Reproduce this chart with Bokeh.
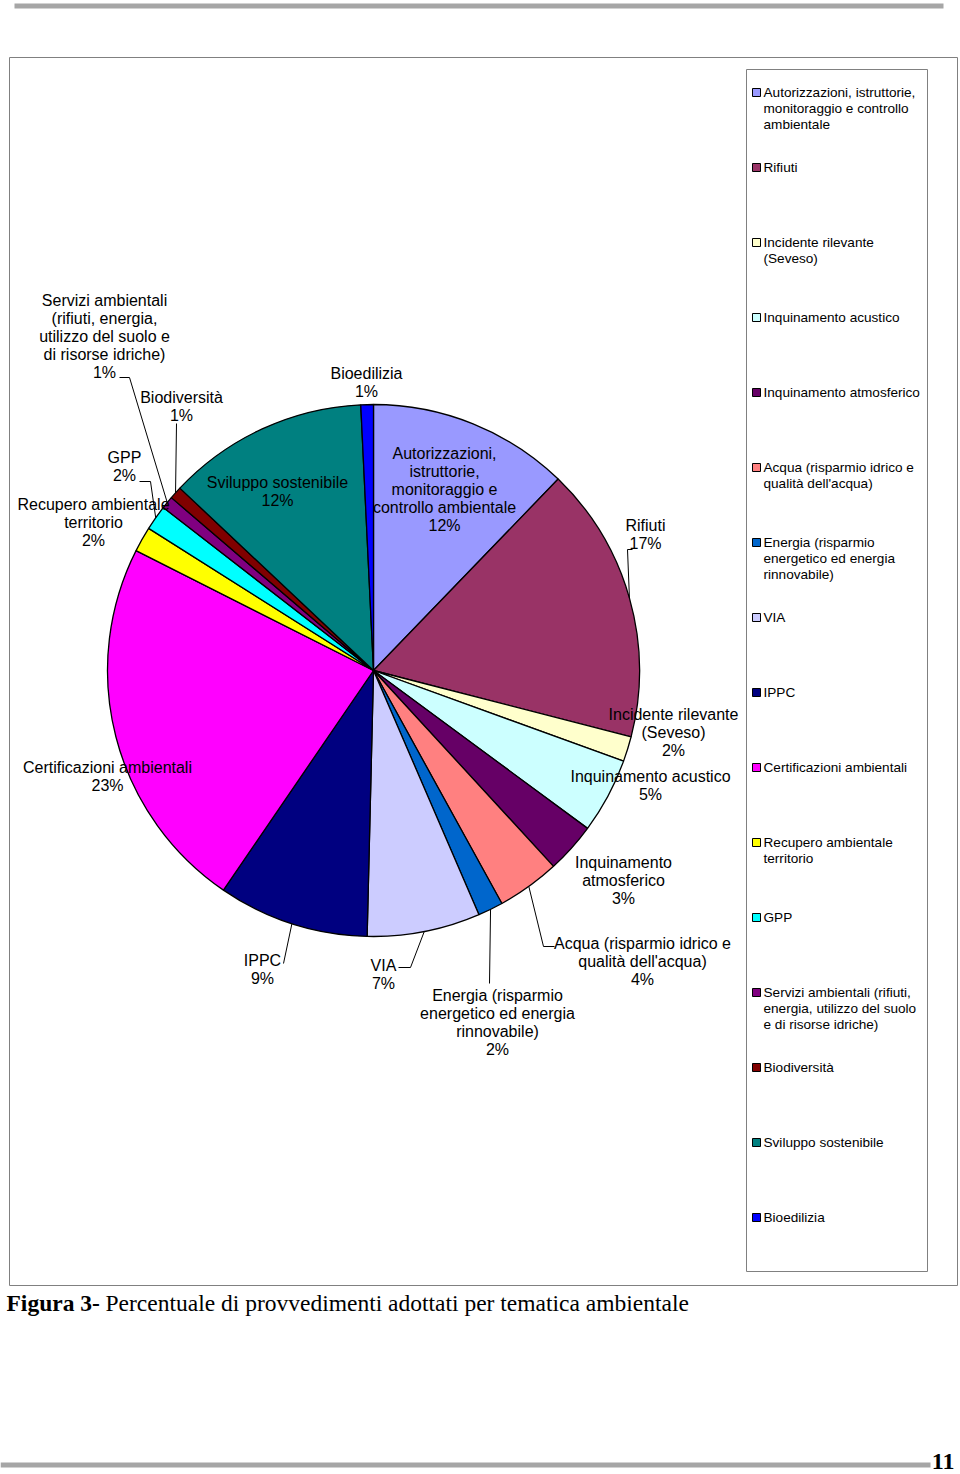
import math
from bokeh.plotting import figure
from bokeh.models import Range1d, ColumnDataSource
from bokeh.core.properties import value
from bokeh.embed import file_html
from bokeh.resources import INLINE

# ---------------- data ----------------
categories = [
    "Autorizzazioni, istruttorie, monitoraggio e controllo ambientale",
    "Rifiuti",
    "Incidente rilevante (Seveso)",
    "Inquinamento acustico",
    "Inquinamento atmosferico",
    "Acqua (risparmio idrico e qualità dell'acqua)",
    "Energia (risparmio energetico ed energia rinnovabile)",
    "VIA",
    "IPPC",
    "Certificazioni ambientali",
    "Recupero ambientale territorio",
    "GPP",
    "Servizi ambientali (rifiuti, energia, utilizzo del suolo e di risorse idriche)",
    "Biodiversità",
    "Sviluppo sostenibile",
    "Bioedilizia",
]
counts = [16, 22, 2, 6, 4, 5, 2, 9, 12, 30, 2, 2, 1, 1, 16, 1]
colors = ["#9999FF", "#993366", "#FFFFCC", "#CCFFFF", "#660066", "#FF8080",
          "#0066CC", "#CCCCFF", "#000080", "#FF00FF", "#FFFF00", "#00FFFF",
          "#800080", "#800000", "#008080", "#0000FF"]

label_lines = [
    ["Autorizzazioni,", "istruttorie,", "monitoraggio e", "controllo ambientale"],
    ["Rifiuti"],
    ["Incidente rilevante", "(Seveso)"],
    ["Inquinamento acustico"],
    ["Inquinamento", "atmosferico"],
    ["Acqua (risparmio idrico e", "qualità dell'acqua)"],
    ["Energia (risparmio", "energetico ed energia", "rinnovabile)"],
    ["VIA"],
    ["IPPC"],
    ["Certificazioni ambientali"],
    ["Recupero ambientale", "territorio"],
    ["GPP"],
    ["Servizi ambientali", "(rifiuti, energia,", "utilizzo del suolo e", "di risorse idriche)"],
    ["Biodiversità"],
    ["Sviluppo sostenibile"],
    ["Bioedilizia"],
]
legend_lines = [
    ["Autorizzazioni,  istruttorie,", "monitoraggio e controllo", "ambientale"],
    ["Rifiuti"],
    ["Incidente rilevante", "(Seveso)"],
    ["Inquinamento acustico"],
    ["Inquinamento atmosferico"],
    ["Acqua (risparmio idrico e", "qualità dell'acqua)"],
    ["Energia (risparmio", "energetico ed energia", "rinnovabile)"],
    ["VIA"],
    ["IPPC"],
    ["Certificazioni ambientali"],
    ["Recupero ambientale", "territorio"],
    ["GPP"],
    ["Servizi ambientali (rifiuti,", "energia, utilizzo del suolo", "e di risorse idriche)"],
    ["Biodiversità"],
    ["Sviluppo sostenibile"],
    ["Bioedilizia"],
]
caption_bold = "Figura 3-"
caption_text = "Percentuale di provvedimenti adottati per tematica ambientale"
page_number = "11"

# ---------------- layout (page pixel coordinates) ----------------
W, H = 960, 1474
def X(px): return px
def Y(py): return H - py

PIE_C = (373, 670)
PIE_R = 266

label_pos = [
    (444, 489), (645, 534), (673, 732), (650, 785), (623, 880), (642, 961),
    (497, 1022), (383, 974), (262, 969), (107, 776), (93, 522), (124, 466),
    (104, 336), (181, 406), (277, 491), (366, 382),
]
leaders = {
    12: [(119, 377), (129, 377)],
    13: [(176, 423)],
    11: [(139, 481), (150, 481)],
    1: [(632, 549), (627, 549)],
    5: [(554, 946), (543, 946)],
    6: [(489, 983)],
    7: [(398, 967), (410, 967)],
    8: [(283, 963)],
}
LABEL_LH = 18
LEG_Y0, LEG_STEP, LEG_LH = 92, 75, 16

FONT = value("Liberation Sans")
SERIF = value("Liberation Serif")

p = figure(width=W, height=H, x_range=Range1d(0, W), y_range=Range1d(0, H),
           output_backend="svg", toolbar_location=None,
           x_axis_location=None, y_axis_location=None, min_border=0,
           outline_line_color=None, background_fill_color="white",
           border_fill_color="white")
p.grid.visible = False

# top and bottom gray page rules
p.quad(left=[X(14)], right=[X(943)], bottom=[Y(8)], top=[Y(3)],
       fill_color="#A6A6A6", line_color=None)
p.quad(left=[X(0)], right=[X(930)], bottom=[Y(1467)], top=[Y(1462)],
       fill_color="#A6A6A6", line_color=None)

# chart frame and legend box
p.quad(left=[X(9)], right=[X(957)], bottom=[Y(1285)], top=[Y(57)],
       fill_color=None, line_color="#808080", line_width=1)
p.quad(left=[X(746)], right=[X(927)], bottom=[Y(1271)], top=[Y(69)],
       fill_color=None, line_color="#808080", line_width=1)

# pie
total = sum(counts)
cum = [0]
for c in counts:
    cum.append(cum[-1] + c)
starts = [math.pi / 2 - 2 * math.pi * cum[i] / total for i in range(len(counts))]
ends = [math.pi / 2 - 2 * math.pi * cum[i + 1] / total for i in range(len(counts))]
p.wedge(x=X(PIE_C[0]), y=Y(PIE_C[1]), radius=PIE_R, start_angle=starts,
        end_angle=ends, direction="clock", fill_color=colors,
        line_color="black", line_width=1.3)

# leader lines
lx, ly = [], []
for i, pts in leaders.items():
    th = 2 * math.pi * (cum[i] + counts[i] / 2) / total
    ex = X(PIE_C[0]) + PIE_R * math.sin(th)
    ey = Y(PIE_C[1]) + PIE_R * math.cos(th)
    lx.append([X(a) for a, b in pts] + [ex])
    ly.append([Y(b) for a, b in pts] + [ey])
p.multi_line(xs=lx, ys=ly, line_color="black", line_width=1)

# pie labels
tx, ty, tt = [], [], []
for i, lines in enumerate(label_lines):
    pct = f"{round(100 * counts[i] / total)}%"
    all_lines = lines + [pct]
    n = len(all_lines)
    cx, cy = label_pos[i]
    for k, s in enumerate(all_lines):
        tx.append(X(cx))
        ty.append(Y(cy + (k - (n - 1) / 2) * LABEL_LH))
        tt.append(s)
p.text(x="x", y="y", text="t", source=ColumnDataSource(dict(x=tx, y=ty, t=tt)),
       text_font=FONT, text_font_size="16px", text_align="center",
       text_baseline="middle", text_color="black")

# legend
mx, my = [], []
gx, gy, gt = [], [], []
for i, lines in enumerate(legend_lines):
    y0 = LEG_Y0 + LEG_STEP * i
    mx.append(X(756))
    my.append(Y(y0))
    for k, s in enumerate(lines):
        gx.append(X(763))
        gy.append(Y(y0 + k * LEG_LH))
        gt.append(s)
p.scatter(x=mx, y=my, marker="square", size=8, fill_color=colors,
          line_color="black", line_width=1)
p.text(x="x", y="y", text="t", source=ColumnDataSource(dict(x=gx, y=gy, t=gt)),
       text_font=FONT, text_font_size="13.6px", text_align="left",
       text_baseline="middle", text_color="black")

# caption
p.text(x=[X(6)], y=[Y(1302)], text=[caption_bold], text_font=SERIF,
       text_font_size="23.5px", text_font_style="bold", text_align="left",
       text_baseline="middle", text_color="black")
p.text(x=[X(105)], y=[Y(1302)], text=[caption_text], text_font=SERIF,
       text_font_size="23.5px", text_align="left", text_baseline="middle",
       text_color="black")

# page number
p.text(x=[X(954)], y=[Y(1461)], text=[page_number], text_font=SERIF,
       text_font_size="24px", text_font_style="bold", text_align="right",
       text_baseline="middle", text_color="black")

open("out.html", "w").write(file_html(p, INLINE))
